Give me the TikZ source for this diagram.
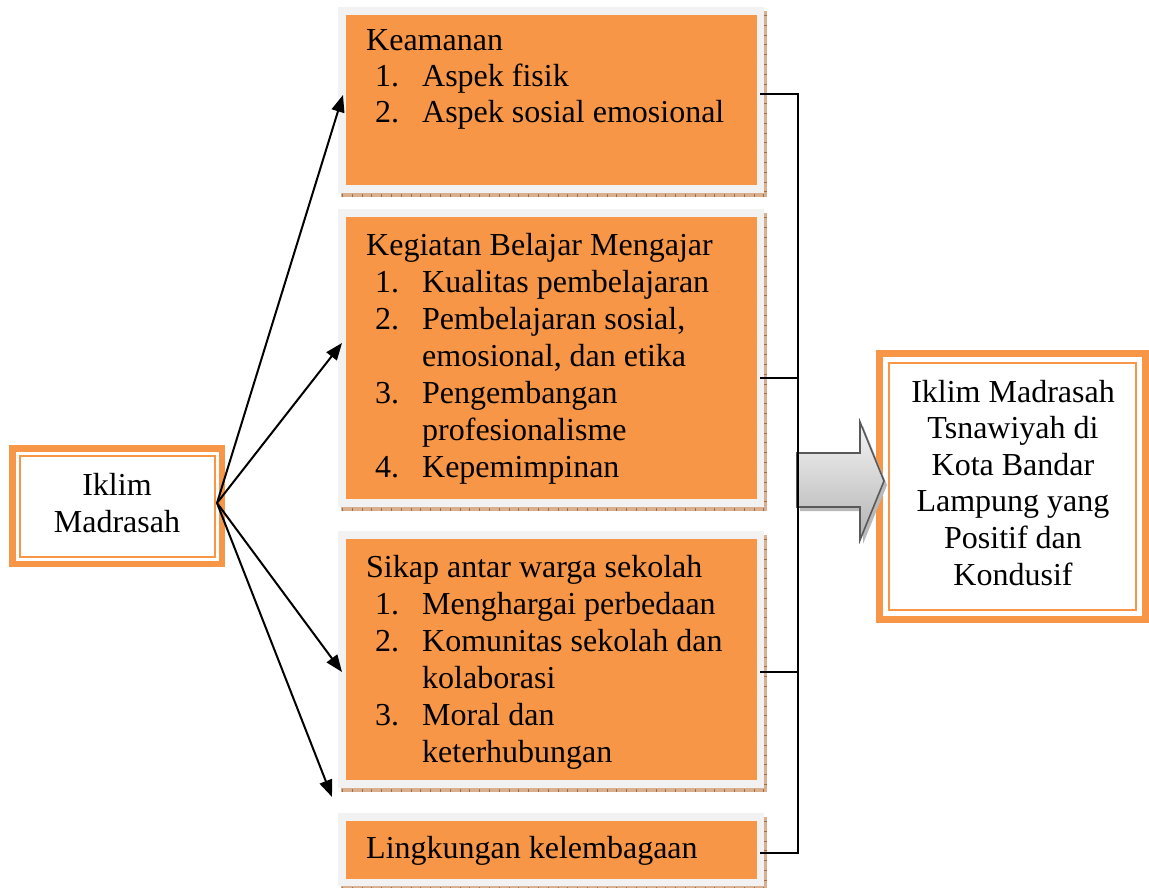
\documentclass[tikz,border=0pt]{standalone}
\usepackage{fontspec}
\setmainfont{Liberation Serif}
\usetikzlibrary{arrows.meta,shadows}
\definecolor{orng}{HTML}{F79646}
\definecolor{frame}{HTML}{F2F2F2}
\definecolor{shad}{HTML}{D9B08F}
\definecolor{shadtick}{HTML}{A86A3E}
\newcommand{\nitem}[2]{\makebox[56pt][l]{\hspace{9pt}#1}#2}
\newcommand{\contline}[1]{\hspace{56pt}#1}
\begin{document}
\begin{tikzpicture}[x=1pt,y=-1pt,
  font=\fontsize{32}{37}\selectfont,
  frm/.style={fill=frame, inner sep=0pt, anchor=north west, minimum width=426pt,
    general shadow={fill=shad, shadow xshift=3pt, shadow yshift=-4pt}},
  org/.style={fill=orng, inner sep=0pt, anchor=north west, minimum width=411pt},
  txt/.style={inner sep=0pt, anchor=base west},
  ln/.style={draw=black, line width=2pt},
  arr/.style={draw=black, line width=2pt, -{Triangle[length=17pt,width=13pt]}},
  ticks/.style={draw=shadtick, line width=3pt, dash pattern=on 0.8pt off 9pt}
]
\useasboundingbox (0,0) rectangle (1149,888);
\fill[white] (0,0) rectangle (1149,888);

% ---- four orange boxes
\node[frm, minimum height=186pt] (f1) at (338,7) {};
\node[org, minimum height=170pt] (o1) at (346,15) {};
\node[frm, minimum height=298pt] (f2) at (338,209) {};
\node[org, minimum height=282pt] (o2) at (346,217) {};
\node[frm, minimum height=257pt] (f3) at (338,531) {};
\node[org, minimum height=241pt] (o3) at (346,539) {};
\node[frm, minimum height=73pt] (f4) at (338,813) {};
\node[org, minimum height=58pt] (o4) at (346,821) {};
\foreach \a/\b in {7/193,209/507,531/788,813/886}{
  \draw[ticks] (765.5,\a+8) -- (765.5,\b+3);
  \draw[ticks] (342,\b+2) -- (767,\b+2);
}

% ---- texts in boxes
\node[txt] (t1) at (366,51) {\fontsize{32}{36}\selectfont\begin{tabular}[t]{@{}l@{}}Keamanan\\
  \nitem{1.}{Aspek fisik}\\
  \nitem{2.}{Aspek sosial emosional}\end{tabular}};
\node[txt] (t2) at (366,255) {\begin{tabular}[t]{@{}l@{}}Kegiatan Belajar Mengajar\\
  \nitem{1.}{Kualitas pembelajaran}\\
  \nitem{2.}{Pembelajaran sosial,}\\
  \contline{emosional, dan etika}\\
  \nitem{3.}{Pengembangan}\\
  \contline{profesionalisme}\\
  \nitem{4.}{Kepemimpinan}\end{tabular}};
\node[txt] (t3) at (366,577) {\begin{tabular}[t]{@{}l@{}}Sikap antar warga sekolah\\
  \nitem{1.}{Menghargai perbedaan}\\
  \nitem{2.}{Komunitas sekolah dan}\\
  \contline{kolaborasi}\\
  \nitem{3.}{Moral dan}\\
  \contline{keterhubungan}\end{tabular}};
\node[txt] (t4) at (366,858) {Lingkungan kelembagaan};

% ---- left node
\fill[orng] (9,445) rectangle (225,567);
\fill[white] (15.5,451.5) rectangle (218.5,560.5);
\draw[orng, line width=2pt] (19.5,455.5) rectangle (214.5,556.5);
\node[inner sep=0pt, anchor=base] (src) at (117,495) {\begin{tabular}[t]{@{}c@{}}Iklim\\ Madrasah\end{tabular}};

% ---- right node
\fill[orng] (876,350) rectangle (1149,623);
\fill[white] (883,357) rectangle (1142,616);
\draw[orng, line width=2pt] (889,363) rectangle (1136,610);
\node[inner sep=0pt, anchor=base] (res) at (1013,402) {\fontsize{32}{36.6}\selectfont\begin{tabular}[t]{@{}c@{}}Iklim Madrasah\\ Tsnawiyah di\\ Kota Bandar\\ Lampung yang\\ Positif dan\\ Kondusif\end{tabular}};

% ---- arrows from left node
\coordinate (s) at (217,503);
\coordinate (a1) at (343,95);
\coordinate (a2) at (342,343);
\coordinate (a3) at (342,672);
\coordinate (a4) at (332,797);
\draw[arr] (s) -- (a1);
\draw[arr] (s) -- (a2);
\draw[arr] (s) -- (a3);
\draw[arr] (s) -- (a4);

% ---- bracket connectors
\coordinate (j1) at (798,94);
\coordinate (j2) at (798,378);
\coordinate (j3) at (798,672);
\coordinate (j4) at (798,853);
\draw[ln] ([xshift=-4pt]f1.east |- j1) -- (j1) -- (j4) -- ([xshift=-4pt]f4.east |- j4);
\draw[ln] ([xshift=-4pt]f2.east |- j2) -- (j2);
\draw[ln] ([xshift=-4pt]f3.east |- j3) -- (j3);

% ---- big block arrow
\fill[gray!55] (800,457) -- (863,457) -- (863,426) -- (887,485) -- (863,544) -- (863,511) -- (800,511) -- cycle;
\shade[top color=gray!8, bottom color=gray!60, draw=gray!70!black, line width=1.6pt]
  (797,453) -- (860,453) -- (860,422) -- (884,481) -- (860,540) -- (860,507) -- (797,507) -- cycle;
\draw[ln] (j2) -- (j3);
\end{tikzpicture}
\end{document}
